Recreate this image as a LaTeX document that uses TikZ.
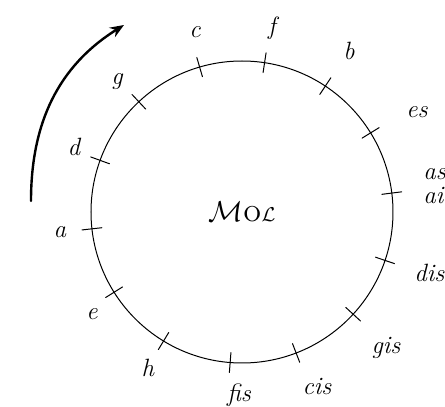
\documentclass[tikz,border=0pt]{standalone}
\usepackage{amsmath}
\usepackage{amssymb}
\usetikzlibrary{arrows.meta}

\begin{document}
\begin{tikzpicture}[
			x=0.5pt, y=0.5pt,
			every node/.style={font=\fontsize{12.5}{14}\selectfont\itshape, inner sep=1pt},
			tonmark/.style={line width=0.5pt},
			line cap=round,
			line join=round
			]
			\useasboundingbox (-242,-195) rectangle (203,212);
			\node[draw, circle, line width=0.5pt, minimum size=151pt, inner sep=0pt, font=\Large\upshape] (mol) at (0,0) {$\mathcal{M}$\textsc{o}$\scriptstyle\mathcal{L}$};
			
			\draw[tonmark] (106.3:141) -- (106.3:161);
			\draw[tonmark] (81.4:141) -- (81.4:161);
			\draw[tonmark] (56.5:141) -- (56.5:161);
			\draw[tonmark] (31.6:141) -- (31.6:161);
			\draw[tonmark] (7.2:141) -- (7.2:161);
			\draw[tonmark] (-18.7:141) -- (-18.7:161);
			\draw[tonmark] (-42.6:141) -- (-42.6:161);
			\draw[tonmark] (-69.0:141) -- (-69.0:161);
			\draw[tonmark] (-94.5:141) -- (-94.5:161);
			\draw[tonmark] (-121.3:141) -- (-121.3:161);
			\draw[tonmark] (-147.9:141) -- (-147.9:161);
			\draw[tonmark] (-173.6:141) -- (-173.6:161);
			\draw[tonmark] (160.0:141) -- (160.0:161);
			\draw[tonmark] (133.1:141) -- (133.1:161);
			
			\node (c) at (-47,180) {c};
			\node (f) at (30,184) {f};
			\node (b) at (107,161) {b};
			\node (es) at (175,100) {es};
			\node[anchor=west, align=left] (asai) at (179,26) {as\\[-2pt]ai};
			\node[anchor=west] (dis) at (170,-61) {dis};
			\node (gis) at (144,-136) {gis};
			\node (cis) at (75,-175) {cis};
			\node (fis) at (-3,-183) {fis};
			\node (h) at (-94,-156) {h};
			\node (e) at (-150,-102) {e};
			\node (a) at (-182,-20) {a};
			\node (d) at (-168,65) {d};
			\node (g) at (-125,130) {g};
			
			\coordinate (arrS) at (-211,11);
			\coordinate (arrE) at (-118,187);
			\draw[line width=1.2pt, -{Stealth[length=7pt, width=5.5pt]}] (arrS) to[out=90, in=212] (arrE);
		\end{tikzpicture}
\end{document}
